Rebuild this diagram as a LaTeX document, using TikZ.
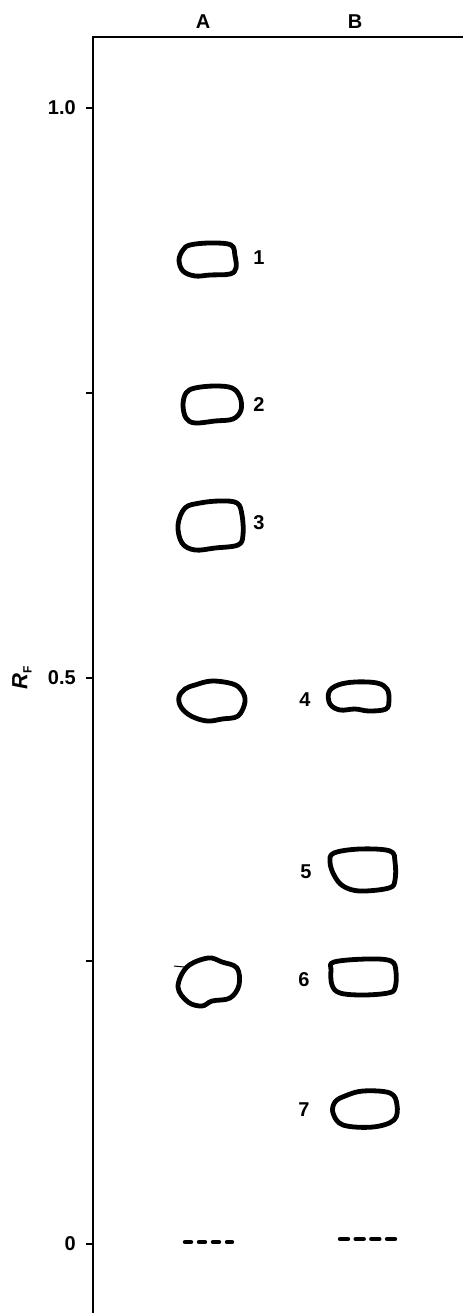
\documentclass[tikz,border=0pt]{standalone}
\usepackage{fontspec}
\setmainfont{Liberation Sans}
\usetikzlibrary{positioning}

\begin{document}
\begin{tikzpicture}[x=1pt, y=-1pt, font=\fontsize{20}{24}\selectfont\bfseries]
    \tikzset{spot/.style={line width=4.8pt, line join=round},
             lbl/.style={inner sep=0pt},
             origin/.style={line width=4.4pt, line cap=round}}
    \useasboundingbox (0,0) rectangle (463,1313);

    % 1. Truc R_F va duong tren
    \draw[line width=2pt] (93,1313) -- (93,37) -- (463,37);
    \foreach \y in {108,393,678,961,1244}
        \draw[line width=1.5pt] (86,\y) -- (93,\y);
    \node[lbl, left] (t10) at (76,108) {1.0};
    \node[lbl, left] (t05) at (76,678) {0.5};
    \node[lbl, left] (t00) at (76,1244) {0};
    \node[lbl, rotate=90] (rf) at (22,678) {{\itshape\fontsize{22}{24}\selectfont R}\raisebox{-0.4ex}{\fontsize{12}{12}\selectfont F}};

    % 2. Ten cot
    \node[lbl] (colA) at (203,22) {A};
    \node[lbl] (colB) at (355,22) {B};

    % 3. Cac vet cot A
    \draw[spot] plot[smooth cycle, tension=0.6] coordinates {(190,245) (210,243) (231,245) (235,256) (236,268) (230,274) (210,275) (195,276) (183,271) (179,260) (183,250)};
    \draw[spot] plot[smooth cycle, tension=0.6] coordinates {(195,388) (215,386) (232,388) (240,397) (241,410) (233,419) (215,421) (195,423) (186,418) (183,405) (186,393)};
    \draw[spot] plot[smooth cycle, tension=0.6] coordinates {(185,508) (200,503) (220,501) (237,503) (242,515) (243,535) (238,545) (215,548) (195,550) (182,543) (178,525)};
    \draw[spot] plot[smooth cycle, tension=0.6] coordinates {(195,685) (212,681) (233,684) (242,691) (245,702) (238,716) (222,719) (207,721) (191,716) (181,707) (179,697) (185,689)};
    \draw[spot] plot[smooth cycle, tension=0.6] coordinates {(187,967) (208,958) (222,962) (237,968) (239,985) (230,998) (212,1001) (202,1006) (188,1002) (178,987)};
    \draw[line width=1pt] (174,966) -- (184,967);

    % 4. Cac vet cot B
    \draw[spot] plot[smooth cycle, tension=0.6] coordinates {(338,685) (355,682) (377,683) (387,689) (389,700) (386,709) (369,711) (355,709) (340,710) (330,704) (329,692)};
    \draw[spot] plot[smooth cycle, tension=0.6] coordinates {(334,853) (360,849) (390,851) (395,862) (395,880) (389,888) (360,891) (343,886) (334,875) (330,862)};
    \draw[spot] plot[smooth cycle, tension=0.6] coordinates {(334,962) (367,959) (391,961) (396,972) (395,988) (388,993) (363,995) (340,993) (332,985) (331,970)};
    \draw[spot] plot[smooth cycle, tension=0.6] coordinates {(345,1096) (363,1091) (390,1093) (397,1105) (394,1120) (373,1127) (343,1125) (333,1113) (335,1102)};

    % 5. So thu tu vet
    \node[lbl] (n1) at (259,258) {1};
    \node[lbl] (n2) at (259,405) {2};
    \node[lbl] (n3) at (259,523) {3};
    \node[lbl] (n4) at (305,700) {4};
    \node[lbl] (n5) at (306,872) {5};
    \node[lbl] (n6) at (304,980) {6};
    \node[lbl] (n7) at (304,1110) {7};

    % 6. Vach xuat phat
    \draw[origin, dash pattern=on 6pt off 8pt] (185,1242) -- (232,1242);
    \draw[origin, dash pattern=on 8pt off 7.67pt] (340,1239) -- (395,1239);

\end{tikzpicture}
\end{document}
